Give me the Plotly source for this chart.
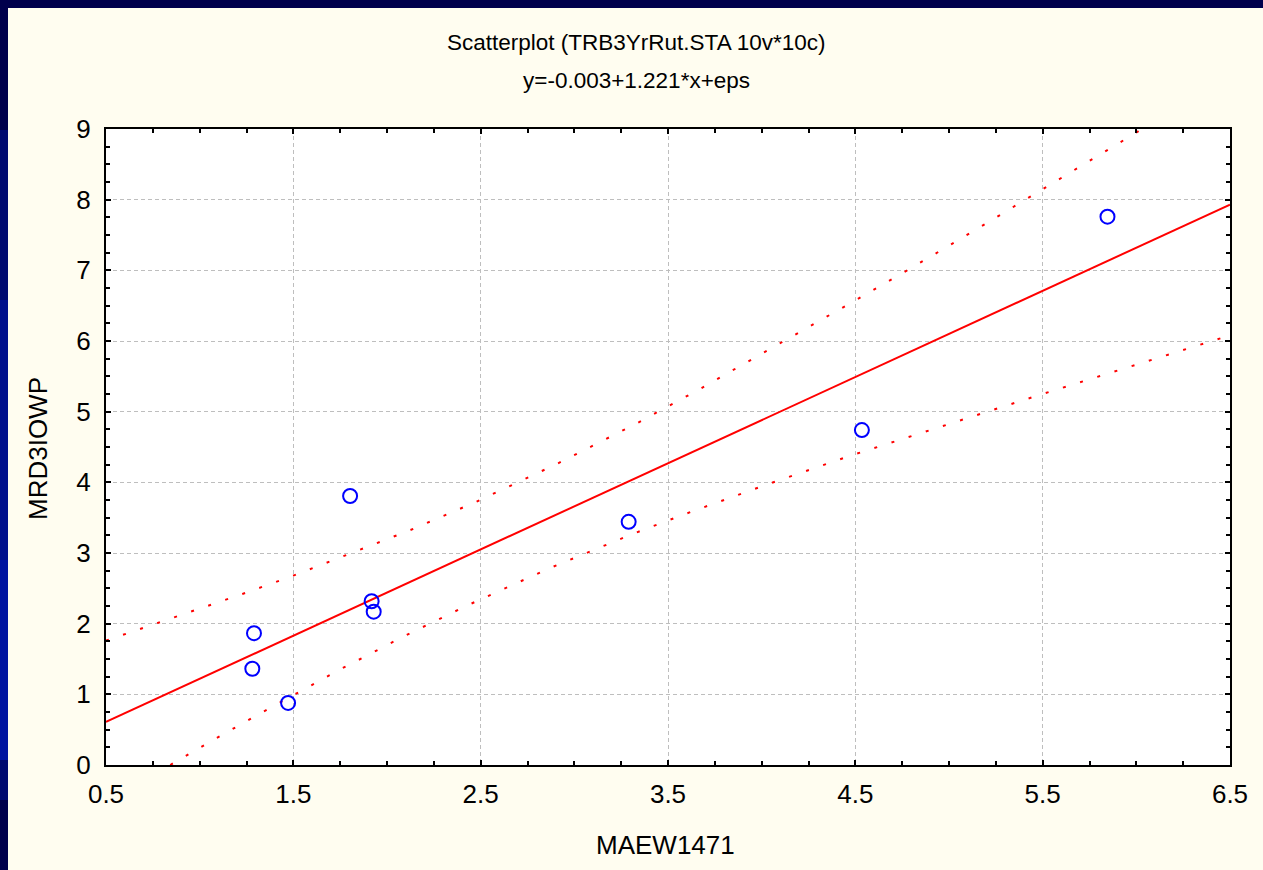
import plotly.graph_objects as go

# ---- data ----
pts_x = [1.281, 1.290, 1.472, 1.803, 1.918, 1.929, 3.290, 4.535, 5.846]
pts_y = [1.362, 1.866, 0.878, 3.807, 2.317, 2.170, 3.441, 4.739, 7.759]

reg_x = [0.5, 6.5]
reg_y = [0.61, 7.93]

upper_x = [0.5, 0.776, 1.046, 1.228, 1.500, 1.856, 2.034, 2.123, 2.475, 2.906,
           3.332, 3.501, 3.665, 4.496, 4.827, 5.155, 5.485, 5.814, 5.975, 6.05]
upper_y = [1.76, 2.011, 2.255, 2.420, 2.679, 3.041, 3.229, 3.323, 3.723, 4.259,
           4.833, 5.078, 5.313, 6.569, 7.078, 7.595, 8.122, 8.644, 8.912, 9.03]

lower_x = [0.843, 0.917, 0.998, 1.082, 1.331, 1.582, 1.749, 1.922, 2.087, 2.434,
           2.870, 3.309, 3.578, 4.026, 4.480, 5.479, 5.933, 6.392, 6.5]
lower_y = [0.0, 0.116, 0.243, 0.370, 0.741, 1.112, 1.352, 1.588, 1.818, 2.265,
           2.787, 3.267, 3.539, 3.968, 4.382, 5.233, 5.614, 5.991, 6.08]

title1 = "Scatterplot (TRB3YrRut.STA 10v*10c)"
title2 = "y=-0.003+1.221*x+eps"
x_title = "MAEW1471"
y_title = "MRD3IOWP"

FONT = "Arial, Liberation Sans, sans-serif"
W, H = 1263, 870
L, R, T, B = 106, 33, 129, 105
PW, PH = W - L - R, H - T - B


def px2paper_x(px):
    return (px - L) / PW


def px2paper_y(py):
    return (H - B - py) / PH


fig = go.Figure()

band_line = dict(color="#FF0000", width=2, dash="3px,15px")
fig.add_trace(go.Scatter(x=upper_x, y=upper_y, mode="lines", line=band_line,
                         hoverinfo="skip", showlegend=False))
fig.add_trace(go.Scatter(x=lower_x, y=lower_y, mode="lines", line=band_line,
                         hoverinfo="skip", showlegend=False))
fig.add_trace(go.Scatter(x=reg_x, y=reg_y, mode="lines",
                         line=dict(color="#FF0000", width=2),
                         showlegend=False))
fig.add_trace(go.Scatter(x=pts_x, y=pts_y, mode="markers",
                         marker=dict(symbol="circle-open", size=14, color="#0000FF",
                                     line=dict(width=2, color="#0000FF")),
                         showlegend=False))

axis_common = dict(
    showline=True, linewidth=2, linecolor="black", mirror="allticks",
    ticks="inside", ticklen=5, tickwidth=2, tickcolor="black",
    showgrid=True, gridcolor="#BEBEBE", gridwidth=1, griddash="4px,3px",
    zeroline=False, automargin=False,
    tickfont=dict(family=FONT, size=26, color="black"),
)

fig.update_xaxes(range=[0.5, 6.5], tick0=0.5, dtick=1, ticklabelstandoff=5,
                 minor=dict(tick0=0.5, dtick=0.25, ticks="inside", ticklen=4,
                            tickwidth=1.5, tickcolor="black", showgrid=False),
                 **axis_common)
fig.update_yaxes(range=[0, 9], tick0=0, dtick=1, ticklabelstandoff=8,
                 minor=dict(tick0=0, dtick=0.25, ticks="inside", ticklen=4,
                            tickwidth=1.5, tickcolor="black", showgrid=False),
                 **axis_common)

navy = "#00004C"
shapes = [
    dict(type="rect", xref="paper", yref="paper",
         x0=px2paper_x(-2), x1=px2paper_x(W + 2), y0=px2paper_y(8), y1=px2paper_y(-2),
         fillcolor=navy, line=dict(width=0), layer="below"),
    dict(type="rect", xref="paper", yref="paper",
         x0=px2paper_x(-2), x1=px2paper_x(8), y0=px2paper_y(H + 2), y1=px2paper_y(-2),
         fillcolor=navy, line=dict(width=0), layer="below"),
]
blues = [("#000A70", 130, 300), ("#00108C", 300, 560), ("#0014A0", 560, 760), ("#000A70", 760, 800)]
for col, y0, y1 in blues:
    shapes.append(dict(type="rect", xref="paper", yref="paper",
                       x0=px2paper_x(-2), x1=px2paper_x(8), y0=px2paper_y(y1), y1=px2paper_y(y0),
                       fillcolor=col, line=dict(width=0), layer="below"))

annotations = [
    dict(text=title1, x=px2paper_x(636), y=px2paper_y(43), xref="paper", yref="paper",
         xanchor="center", yanchor="middle", showarrow=False,
         font=dict(family=FONT, size=22.5, color="black")),
    dict(text=title2, x=px2paper_x(636), y=px2paper_y(80), xref="paper", yref="paper",
         xanchor="center", yanchor="middle", showarrow=False,
         font=dict(family=FONT, size=22.5, color="black")),
    dict(text=x_title, x=px2paper_x(665), y=px2paper_y(845), xref="paper", yref="paper",
         xanchor="center", yanchor="middle", showarrow=False,
         font=dict(family=FONT, size=26, color="black")),
    dict(text=y_title, x=px2paper_x(38), y=px2paper_y(449), xref="paper", yref="paper",
         xanchor="center", yanchor="middle", showarrow=False, textangle=-90,
         font=dict(family=FONT, size=26, color="black")),
]

fig.update_layout(
    width=W, height=H,
    margin=dict(l=L, r=R, t=T, b=B, pad=0),
    paper_bgcolor="#FFFDF0",
    plot_bgcolor="white",
    shapes=shapes,
    annotations=annotations,
    showlegend=False,
)

fig.write_html(
    "out.html",
    config={"displayModeBar": False},
    post_script="document.body.style.margin='0';document.body.style.overflow='hidden';"
                "document.body.style.background='#00004C';",
)
